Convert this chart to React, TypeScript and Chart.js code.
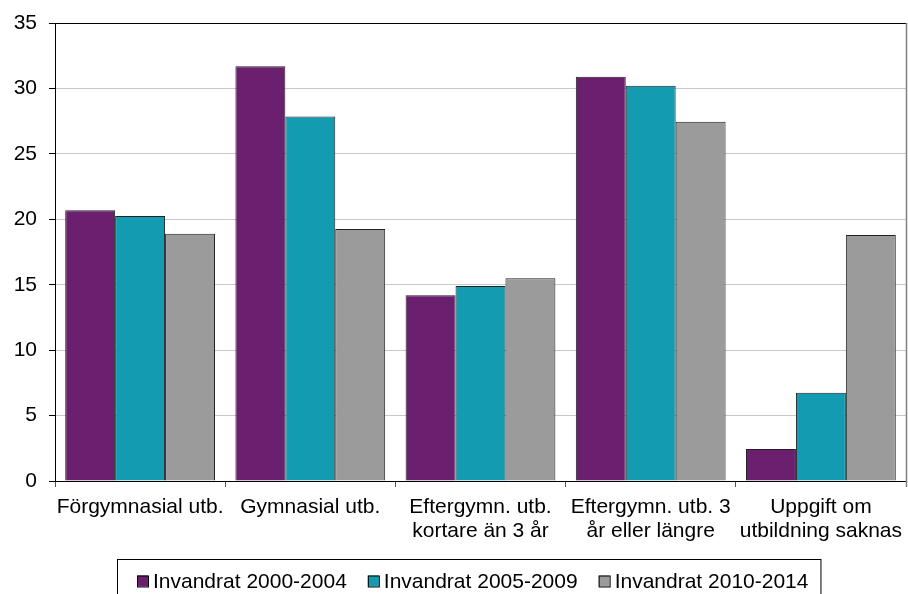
import React, { useEffect, useRef } from "react";
import { Chart, registerables } from "chart.js";

Chart.register(...registerables);

const categories: string[][] = [
  ["Förgymnasial utb."],
  ["Gymnasial utb."],
  ["Eftergymn. utb.", "kortare än 3 år"],
  ["Eftergymn. utb. 3", "år eller längre"],
  ["Uppgift om", "utbildning saknas"],
];
const seriesLabels = ["Invandrat 2000-2004", "Invandrat 2005-2009", "Invandrat 2010-2014"];
const values2000 = [20.7, 31.7, 14.2, 30.9, 2.45];
const values2005 = [20.25, 27.85, 14.9, 30.2, 6.75];
const values2010 = [18.9, 19.25, 15.5, 27.45, 18.8];
const seriesColors = ["#6B1F6F", "#139BB2", "#9B9B9B"];
const yTicks = [0, 5, 10, 15, 20, 25, 30, 35];

const FONT = "'Liberation Sans', Arial, sans-serif";

const framePlugin = {
  id: "frame",
  afterDraw(chart: any) {
    const { ctx, chartArea } = chart;
    ctx.save();
    // right border
    ctx.strokeStyle = "#808080";
    ctx.lineWidth = 1.5;
    ctx.beginPath();
    ctx.moveTo(Math.round(chartArea.right) + 0.5, chartArea.top);
    ctx.lineTo(Math.round(chartArea.right) + 0.5, chartArea.bottom + 6);
    ctx.stroke();

    // custom legend
    ctx.font = `21px ${FONT}`;
    ctx.textBaseline = "middle";
    ctx.textAlign = "left";
    const midY = 581;
    let x = 137;
    const datasets = chart.data.datasets;
    let lastEnd = x;
    datasets.forEach((ds: any) => {
      ctx.fillStyle = ds.backgroundColor;
      ctx.fillRect(x, midY - 5.5, 11, 11);
      ctx.strokeStyle = "#000";
      ctx.lineWidth = 1;
      ctx.strokeRect(x + 0.5, midY - 5.5 + 0.5, 11, 11);
      ctx.fillStyle = "#000";
      ctx.fillText(ds.label, x + 16, midY + 1);
      const w = ctx.measureText(ds.label).width;
      lastEnd = x + 16 + w;
      x = lastEnd + 21;
    });
    ctx.strokeStyle = "#000";
    ctx.lineWidth = 1;
    ctx.strokeRect(117.5, 559.5, lastEnd + 12 - 117, 60);
    ctx.restore();
  },
};

export default function App() {
  const ref = useRef<HTMLCanvasElement | null>(null);
  useEffect(() => {
    document.body.style.margin = "0";
    document.body.style.overflow = "hidden";
    Chart.defaults.font.family = FONT;
    Chart.defaults.color = "#000";
    const chart = new Chart(ref.current as HTMLCanvasElement, {
      type: "bar",
      data: {
        labels: categories,
        datasets: [values2000, values2005, values2010].map((d, i) => ({
          label: seriesLabels[i],
          data: d,
          backgroundColor: seriesColors[i],
          borderColor: "#222",
          borderWidth: 1,
          categoryPercentage: 0.88,
          barPercentage: 1,
        })),
      },
      options: {
        animation: false,
        responsive: false,
        maintainAspectRatio: false,
        layout: { padding: { left: 0, right: 2, top: 23, bottom: 35 } },
        plugins: {
          tooltip: { enabled: false },
          legend: { display: false },
        },
        scales: {
          x: {
            grid: {
              offset: true,
              drawOnChartArea: false,
              drawTicks: true,
              tickLength: 6,
              tickColor: "#555",
            },
            border: { color: "#000", width: 1 },
            ticks: {
              font: { size: 21, lineHeight: 1.15 },
              color: "#000",
              padding: 8,
              maxRotation: 0,
              autoSkip: false,
            },
            afterFit: (s: any) => {
              s.height = 78;
              s.paddingLeft = 0;
              s.paddingRight = 0;
            },
          },
          y: {
            min: 0,
            max: 35,
            afterBuildTicks: (s: any) => {
              s.ticks = yTicks.map((v) => ({ value: v }));
            },
            grid: {
              color: (c: any) => (c.tick && c.tick.value === 35 ? "#000" : "#c8c8c8"),
              tickColor: "#000",
              tickLength: 6,
              lineWidth: 1,
            },
            border: { color: "#000", width: 1 },
            ticks: { font: { size: 21 }, color: "#000", padding: 12 },
            afterFit: (s: any) => {
              s.width = 55;
              s.paddingTop = 0;
              s.paddingBottom = 0;
            },
          },
        },
      },
      plugins: [framePlugin],
    } as any);
    return () => chart.destroy();
  }, []);
  return (
    <div style={{ width: 908, height: 594 }}>
      <canvas ref={ref} width={908} height={594} style={{ display: "block" }} />
    </div>
  );
}
